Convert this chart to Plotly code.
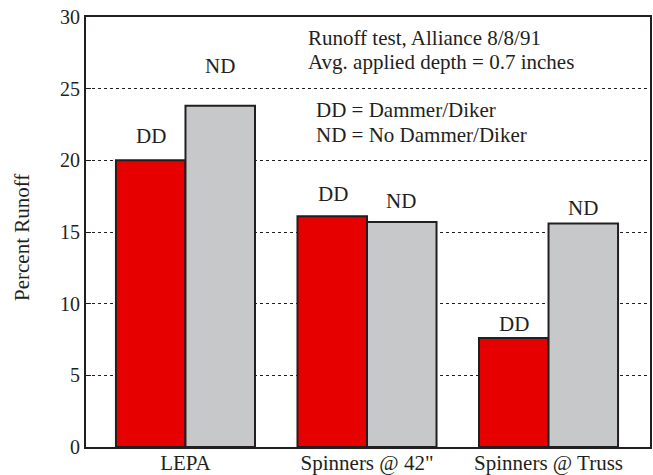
import plotly.graph_objects as go

categories = ["LEPA", "Spinners @ 42\"", "Spinners @ Truss"]
dd_values = [20.0, 16.1, 7.6]
nd_values = [23.8, 15.7, 15.6]
dd_label = "DD"
nd_label = "ND"
y_ticks = [0, 5, 10, 15, 20, 25, 30]
y_title = "Percent Runoff"
notes_top = ["Runoff test, Alliance 8/8/91", "Avg. applied depth = 0.7 inches"]
notes_key = ["DD = Dammer/Diker", "ND = No Dammer/Diker"]

# label offsets above bars (pixels)
dd_shift = [13, 11, 3]
nd_shift = [29, 10, 4]

FONT = "Liberation Serif, Times New Roman, serif"
FS = 21
INK = "#231f20"
RED = "#e60000"
GRAY = "#c7c8ca"

L, R, T, B = 86, 3, 17, 28
W, H = 653, 475
pw, ph = W - L - R, H - T - B

fig = go.Figure()
fig.add_trace(go.Bar(x=categories, y=dd_values, name=dd_label,
                     marker=dict(color=RED, line=dict(color=INK, width=2)),
                     offsetgroup="dd"))
fig.add_trace(go.Bar(x=categories, y=nd_values, name=nd_label,
                     marker=dict(color=GRAY, line=dict(color=INK, width=2)),
                     offsetgroup="nd"))

font = dict(family=FONT, size=FS, color=INK)
ann = []
for i, c in enumerate(categories):
    ann.append(dict(x=i - 0.19, y=dd_values[i], xref="x", yref="y", text=dd_label,
                    showarrow=False, yanchor="bottom", yshift=dd_shift[i] - 3, font=font))
    ann.append(dict(x=i + 0.19, y=nd_values[i], xref="x", yref="y", text=nd_label,
                    showarrow=False, yanchor="bottom", yshift=nd_shift[i] - 3, font=font))

def px(xp, yp):
    return (xp - L) / pw, 1 - (yp - T) / ph

for j, t in enumerate(notes_top):
    x, y = px(306, 38 + 24 * j)
    ann.append(dict(x=x, y=y, xref="paper", yref="paper", text=t, showarrow=False,
                    xanchor="left", yanchor="middle", font=font))
for j, t in enumerate(notes_key):
    x, y = px(314, 110 + 25 * j)
    ann.append(dict(x=x, y=y, xref="paper", yref="paper", text=t, showarrow=False,
                    xanchor="left", yanchor="middle", font=font))

x, y = px(22, 238)
ann.append(dict(x=x, y=y, xref="paper", yref="paper", text=y_title, showarrow=False,
                textangle=-90, xanchor="center", yanchor="middle", font=font))

fig.update_layout(
    width=W, height=H,
    margin=dict(l=L, r=R, t=T, b=B, pad=0),
    paper_bgcolor="white", plot_bgcolor="white",
    barmode="group", bargap=0.234, bargroupgap=0,
    showlegend=False,
    annotations=ann,
    font=font,
)
fig.update_xaxes(type="category", range=[-0.548, 2.559], showline=True, mirror=True,
                 linecolor=INK, linewidth=2, ticks="", showgrid=False, automargin=False,
                 ticklabelstandoff=-4, tickfont=font)
fig.update_yaxes(range=[0, 30], tickvals=y_ticks, showline=True, mirror=True,
                 linecolor=INK, linewidth=2, ticks="inside", ticklen=5, tickcolor=INK,
                 showgrid=True, gridcolor=INK, griddash="dot", gridwidth=1.2,
                 zeroline=False, automargin=False, tickfont=dict(family=FONT, size=20, color=INK))

fig.write_html("out.html", config={"displayModeBar": False},
               post_script="document.body.style.margin='0';document.body.style.overflow='hidden';")
